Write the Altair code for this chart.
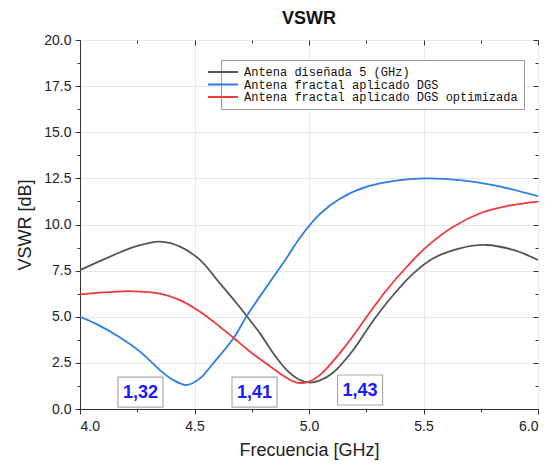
import altair as alt
import pandas as pd

series_names = [
    "Antena diseñada 5 (GHz)",
    "Antena fractal aplicado DGS",
    "Antena fractal aplicado DGS optimizada",
]
series_colors = ["#555555", "#2b7de9", "#f0393c"]

freq_black = [4.0, 4.124, 4.24, 4.349, 4.437, 4.524, 4.611, 4.684, 4.728, 4.786, 4.844,
              4.903, 4.961, 5.004, 5.048, 5.106, 5.193, 5.281, 5.368, 5.456, 5.543,
              5.659, 5.776, 5.892, 6.0]
vswr_black = [7.53, 8.22, 8.8, 9.07, 8.8, 8.08, 6.81, 5.73, 5.04, 4.1, 3.02,
              2.11, 1.57, 1.43, 1.55, 1.98, 3.2, 4.8, 6.18, 7.35, 8.17,
              8.71, 8.89, 8.62, 8.08]

freq_blue = [4.0, 4.066, 4.17, 4.262, 4.349, 4.407, 4.466, 4.524, 4.582, 4.67, 4.728,
             4.815, 4.903, 4.961, 5.048, 5.135, 5.252, 5.397, 5.514, 5.659, 5.805, 6.0]
vswr_blue = [5.0, 4.64, 3.92, 3.11, 2.11, 1.57, 1.3, 1.66, 2.48, 3.83, 5.04,
             6.63, 8.2, 9.3, 10.58, 11.4, 12.05, 12.41, 12.5, 12.41, 12.14, 11.54]

freq_red = [4.0, 4.124, 4.21, 4.262, 4.349, 4.437, 4.524, 4.611, 4.67, 4.742, 4.815,
            4.873, 4.931, 4.961, 5.004, 5.048, 5.077, 5.165, 5.252, 5.339, 5.427,
            5.514, 5.63, 5.747, 5.863, 6.0]
vswr_red = [6.21, 6.33, 6.39, 6.36, 6.25, 5.9, 5.27, 4.46, 3.86, 3.11, 2.45,
            1.93, 1.5, 1.41, 1.5, 1.85, 2.2, 3.5, 5.0, 6.45, 7.71,
            8.8, 9.88, 10.61, 11.0, 11.24]

ann_labels = ["1,32", "1,41", "1,43"]
ann_freq = [4.264, 4.762, 5.223]
ann_vswr = [0.92, 0.92, 1.03]

x_ticks = [4.0, 4.25, 4.5, 4.75, 5.0, 5.25, 5.5, 5.75, 6.0]
y_ticks = [0.0, 1.25, 2.5, 3.75, 5.0, 6.25, 7.5, 8.75, 10.0, 11.25, 12.5, 13.75,
           15.0, 16.25, 17.5, 18.75, 20.0]

rows = []
for name, fs, vs in zip(series_names,
                        [freq_black, freq_blue, freq_red],
                        [vswr_black, vswr_blue, vswr_red]):
    for f, v in zip(fs, vs):
        rows.append({"freq": f, "vswr": v, "serie": name})
df = pd.DataFrame(rows)

ann = pd.DataFrame({"label": ann_labels, "freq": ann_freq, "vswr": ann_vswr})

x_major = "abs(datum.value*2 - round(datum.value*2)) < 0.001"
y_major = "abs(datum.value/2.5 - round(datum.value/2.5)) < 0.001"

xscale = alt.Scale(domain=[4, 6], nice=False, zero=False)
yscale = alt.Scale(domain=[0, 20], nice=False, zero=False)

W, H = 458, 369

x_axis = alt.Axis(
    orient="bottom", values=x_ticks,
    labelExpr=f"{x_major} ? format(datum.value, '.1f') : ''",
    tickSize={"condition": {"test": x_major, "value": 5}, "value": 3},
    gridOpacity={"condition": {"test": x_major, "value": 1}, "value": 0},
    grid=True, gridColor="#e9e9e9", tickColor="#333333", domainColor="#333333",
    labelFont="Liberation Sans", labelFontSize=14, labelColor="#222222",
    labelPadding=5, title="Frecuencia [GHz]", titleFont="Liberation Sans",
    titleFontSize=18, titleFontWeight="normal", titleColor="#222222", titlePadding=8,
)
y_axis = alt.Axis(
    orient="left", values=y_ticks,
    labelExpr=f"{y_major} ? format(datum.value, '.1f') : ''",
    tickSize={"condition": {"test": y_major, "value": 5}, "value": 3},
    gridOpacity={"condition": {"test": y_major, "value": 1}, "value": 0},
    grid=True, gridColor="#e9e9e9", tickColor="#333333", domainColor="#333333",
    labelFont="Liberation Sans", labelFontSize=14, labelColor="#222222",
    labelPadding=4, title="VSWR [dB]", titleFont="Liberation Sans",
    titleFontSize=18, titleFontWeight="normal", titleColor="#222222", titlePadding=9,
)

lines = alt.Chart(df).mark_line(strokeWidth=1.8, interpolate="catmull-rom", clip=True).encode(
    x=alt.X("freq:Q", scale=xscale, axis=x_axis),
    y=alt.Y("vswr:Q", scale=yscale, axis=y_axis),
    color=alt.Color(
        "serie:N",
        scale=alt.Scale(domain=series_names, range=series_colors),
        legend=alt.Legend(
            title=None, orient="none", legendX=141, legendY=20, direction="vertical",
            symbolType="M-5,0L1,0", symbolSize=100, symbolStrokeWidth=2,
            labelFont="Liberation Mono", labelFontSize=12, labelColor="#111111",
            labelOffset=5, rowPadding=0.5, padding=6, strokeColor="#9a9a9a",
            fillColor="#ffffff", labelLimit=400,
        ),
    ),
)

top_axis = alt.Axis(
    orient="bottom", offset=-H, values=x_ticks, labels=False, title="", domain=False,
    grid=False, tickColor="#333333",
    tickSize={"condition": {"test": x_major, "value": 5}, "value": 3},
)
right_axis = alt.Axis(
    orient="left", offset=-W, values=y_ticks, labels=False, title="", domain=False,
    grid=False, tickColor="#333333",
    tickSize={"condition": {"test": y_major, "value": 5}, "value": 3},
)

boxes = alt.Chart(ann).mark_rect(
    width=45, height=30, fill="#ffffff", stroke="#aaaaaa", strokeWidth=1.2
).encode(
    x=alt.X("freq:Q", scale=xscale, axis=top_axis),
    y=alt.Y("vswr:Q", scale=yscale, axis=right_axis),
)
texts = alt.Chart(ann).mark_text(
    font="Liberation Sans", fontSize=18, fontWeight="bold", color="#1a1aff",
    align="center", baseline="middle", dy=1,
).encode(
    x=alt.X("freq:Q", scale=xscale, axis=None),
    y=alt.Y("vswr:Q", scale=yscale, axis=None),
    text="label:N",
)

chart = alt.layer(lines, boxes, texts).resolve_axis(
    x="independent", y="independent"
).properties(
    width=W, height=H,
    title=alt.TitleParams("VSWR", font="Liberation Sans", fontSize=18, fontWeight="bold",
                          color="#111111", anchor="middle", offset=5),
    autosize=alt.AutoSizeParams(type="none"),
    padding={"left": 72, "top": 32, "right": 10, "bottom": 51},
).configure_view(
    stroke="#333333", strokeWidth=1.5
).configure(background="#ffffff")

chart.save("out.html", embed_options={"renderer": "svg", "actions": False})
